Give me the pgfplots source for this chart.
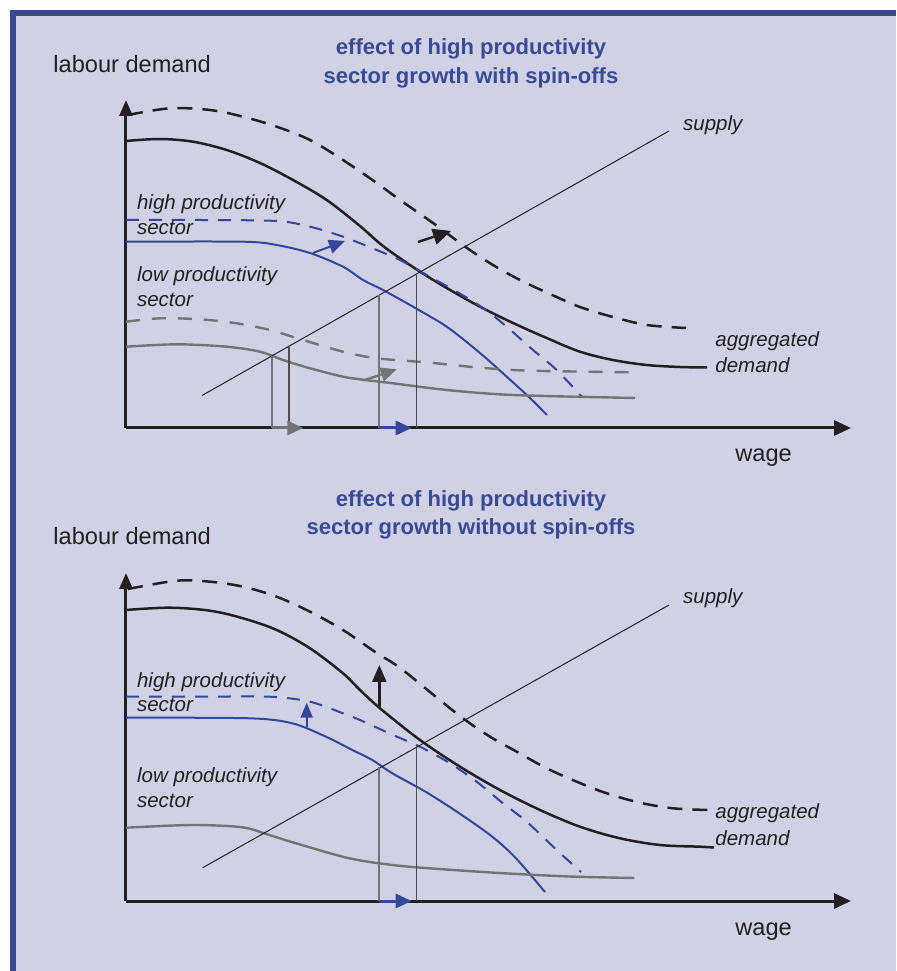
\documentclass[border=0pt]{standalone}
\usepackage{pgfplots}
\pgfplotsset{compat=1.18}
\usetikzlibrary{arrows.meta}
\usepackage{fontspec}
\setmainfont{Liberation Sans}

\definecolor{bg}{HTML}{D0D1E5}
\definecolor{frame}{HTML}{3B4A93}
\definecolor{ink}{HTML}{231F20}
\definecolor{blueline}{HTML}{34479A}
\definecolor{greyline}{HTML}{747474}
\definecolor{titleblue}{HTML}{3A4A95}

\pgfplotsset{
  panel/.style={
    x=0.5pt, y=0.5pt,
    xmin=0, xmax=725, ymin=0, ymax=328,
    enlargelimits=false,
    axis lines=left,
    xtick=\empty, ytick=\empty,
    axis line style={line width=1.5pt, draw=ink},
    x axis line style={-{Triangle[length=8.5pt,width=7.5pt]}},
    y axis line style={-{Triangle[length=8pt,width=6.5pt]}},
    clip=false,
    anchor=south west,
  },
  agg/.style={ink, line width=1.25pt, smooth, tension=0.55},
  aggd/.style={agg, dash pattern=on 7.5pt off 5pt},
  hi/.style={blueline, line width=1pt, smooth, tension=0.5},
  hid/.style={hi, dash pattern=on 6.5pt off 5pt},
  lo/.style={greyline, line width=1.2pt, smooth, tension=0.5},
  lod/.style={lo, dash pattern=on 7pt off 6pt},
  supply/.style={ink, line width=0.5pt},
  drop/.style={ink!80, line width=0.6pt},
  dropg/.style={greyline, line width=0.6pt},
  tip/.style={-{Triangle[length=8pt,width=7pt]}},
}
\tikzset{
  lbl/.style={font=\fontsize{10.25}{12}\itshape, text=ink, inner sep=0pt, anchor=base west},
  big/.style={font=\fontsize{11.8}{14}\selectfont, text=ink, inner sep=0pt, anchor=base west},
  ttl/.style={font=\fontsize{11}{13}\bfseries, text=titleblue, inner sep=0pt, anchor=base},
}

\begin{document}
\begin{tikzpicture}
\useasboundingbox (0,0) rectangle (448pt,485.5pt);
\fill[white] (0,0) rectangle (448pt,485.5pt);
\fill[frame] (5pt,0) rectangle (448pt,480.5pt);
\fill[bg] (8pt,0) rectangle (448pt,477.5pt);

% ---- top panel: with spin-offs
\begin{axis}[panel, at={(63pt,271.5pt)}]
\addplot[aggd] coordinates {(2,313) (44,319.7) (84,318) (117,311.3) (150.7,301.3) (184,288) (217,268) (250.7,245) (274,228) (307,205) (341,180) (367,163) (394,148) (424,134) (454,121) (487,111) (521,103) (560,100)};
\addplot[agg] coordinates {(0,287) (34,289) (67,286.3) (100.7,278) (134,265) (167,248) (200.7,228) (234,202) (257,182) (290.7,158.5) (320.7,140) (354,121.3) (387,105) (420.7,90) (454,76.3) (487,68) (520.7,63) (554,61) (581,60.5)};
\addplot[hid] coordinates {(0,208) (75,208) (150.7,207) (184,201.3) (217,191.3) (250.7,178) (274,168) (297,155) (330.7,136.3) (357,120) (380.7,101.3) (407,78) (430.7,58) (456,31)};
\addplot[hi] coordinates {(0,186.3) (117,186.3) (150.7,183) (184,175) (217,161.3) (237,148) (257,138) (287,121.3) (320.7,101.3) (354,75) (380.7,51.3) (404,30) (421,13)};
\addplot[lod] coordinates {(0,106.3) (34,109.7) (74,108.7) (110.7,104.7) (144,98) (177,88) (217,76.3) (250.7,69.7) (304,65.3) (354,60.3) (404,57.3) (507,55.7)};
\addplot[lo] coordinates {(0,81.3) (50.7,83.7) (100.7,81.3) (134,76.3) (157,68) (184,59.7) (217,51.3) (234,48.7) (267,44.7) (320.7,38) (387,33) (509,30)};
\addplot[supply] coordinates {(76,32.5) (543,297)};
\addplot[dropg] coordinates {(146,0) (146,72.2)};
\addplot[drop] coordinates {(163,0) (163,81.8)};
\addplot[dropg] coordinates {(253,0) (253,132.8)};
\addplot[drop] coordinates {(290.7,0) (290.7,154.1)};
\addplot[greyline, line width=1.5pt, tip] coordinates {(146,0) (177.3,0)};
\addplot[blueline, line width=1.5pt, tip] coordinates {(253,0) (285.7,0)};
\addplot[blueline, line width=1pt, tip] coordinates {(187,175) (219,187)};
\addplot[greyline, line width=1.2pt, tip] coordinates {(239,48) (270.7,58.7)};
\addplot[ink, line width=1.25pt, -{Triangle[length=9pt,width=8pt]}] coordinates {(292,186) (325,197)};
\node[big] at (axis cs:-73,355.3) {labour demand};
\node[ttl] at (axis cs:345,373) {effect of high productivity};
\node[ttl] at (axis cs:345,344.5) {sector growth with spin-offs};
\node[lbl] at (axis cs:556.7,297) {supply};
\node[lbl] at (axis cs:10.7,218) {high productivity};
\node[lbl] at (axis cs:10.7,193) {sector};
\node[lbl] at (axis cs:10.7,146.3) {low productivity};
\node[lbl] at (axis cs:10.7,121.3) {sector};
\node[lbl] at (axis cs:589,81.3) {aggregated};
\node[lbl] at (axis cs:589,55.3) {demand};
\node[big] at (axis cs:609,-33.7) {wage};
\end{axis}

% ---- bottom panel: without spin-offs
\begin{axis}[panel, at={(63pt,35pt)}]
\addplot[aggd] coordinates {(2,312) (50.7,320.3) (84,319.3) (117,314.3) (150.7,304.3) (184,289.3) (217,271) (250.7,248) (267,238) (280.7,228) (307,206.5) (337,182.7) (364,164.3) (390.7,149.3) (420.7,132.7) (450.7,119.3) (480.7,107.7) (514,98.3) (547,92.7) (582,91)};
\addplot[agg] coordinates {(0,291) (43.3,293.3) (84,290.3) (117,282.7) (150.7,271) (184,252.7) (217,227.7) (234,211) (254,192.7) (294,161) (334,134.3) (374,111) (414,91) (454,74.3) (494,62.7) (534,56) (574,54.3) (588,53.5)};
\addplot[hid] coordinates {(0,204.3) (75,204.3) (144,204.3) (184,199.3) (217,187.7) (234,181) (267,166) (294,154.3) (324,137.7) (350.7,119.3) (377,97.7) (400.7,79.3) (430.7,51) (455,29)};
\addplot[hi] coordinates {(0,183.3) (123.3,182.7) (166.3,177.7) (200,164.3) (226.3,151) (246.3,141) (266.3,127.7) (300,109) (333.3,87.7) (366.3,64.3) (390,42.7) (419,9)};
\addplot[lo] coordinates {(0,73.3) (66.3,76) (116.3,73.7) (143.3,66) (170,57.7) (223.3,42.7) (266.3,36) (303.3,32.7) (373.3,28) (443.3,24.5) (508.3,23)};
\addplot[supply] coordinates {(76.7,33.3) (543,296)};
\addplot[dropg] coordinates {(253,0) (253,134.3)};
\addplot[drop] coordinates {(290.7,0) (290.7,156)};
\addplot[blueline, line width=1.5pt, tip] coordinates {(253,0) (285.7,0)};
\addplot[blueline, line width=1pt, -{Triangle[length=7.5pt,width=6pt]}] coordinates {(180.7,174.3) (180.7,198.3)};
\addplot[ink, line width=1.25pt, -{Triangle[length=8.5pt,width=7pt]}] coordinates {(253.3,194.3) (253.3,236)};
\node[big] at (axis cs:-73,356) {labour demand};
\node[ttl] at (axis cs:345,394.3) {effect of high productivity};
\node[ttl] at (axis cs:345,366) {sector growth without spin-offs};
\node[lbl] at (axis cs:556.7,297) {supply};
\node[lbl] at (axis cs:10.7,213.7) {high productivity};
\node[lbl] at (axis cs:10.7,189.3) {sector};
\node[lbl] at (axis cs:10.7,118.3) {low productivity};
\node[lbl] at (axis cs:10.7,93.3) {sector};
\node[lbl] at (axis cs:589,83) {aggregated};
\node[lbl] at (axis cs:589,56) {demand};
\node[big] at (axis cs:609,-34) {wage};
\end{axis}
\end{tikzpicture}
\end{document}
